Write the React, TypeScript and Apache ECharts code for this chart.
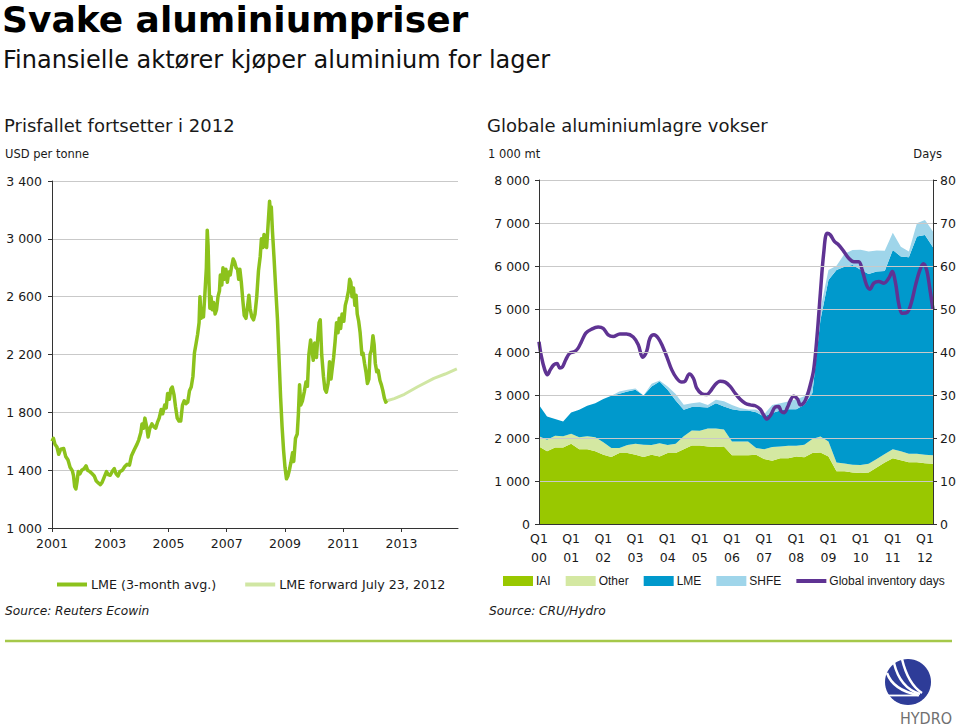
import React, { useEffect, useRef } from 'react';
import * as echarts from 'echarts';

// ---------- Left chart: LME aluminium price (USD per tonne), x = years after 2001 ----------
const lmeX = [0.00,0.05,0.10,0.17,0.23,0.30,0.40,0.47,0.55,0.62,0.70,0.74,0.78,0.82,0.86,0.90,0.96,1.02,1.10,1.17,1.22,1.30,1.38,1.45,1.52,1.60,1.66,1.72,1.80,1.87,1.93,2.00,2.08,2.14,2.20,2.27,2.33,2.42,2.50,2.58,2.66,2.73,2.82,2.92,2.98,3.05,3.09,3.14,3.19,3.25,3.30,3.36,3.43,3.50,3.56,3.62,3.68,3.75,3.80,3.87,3.92,3.97,4.03,4.08,4.13,4.19,4.24,4.30,4.36,4.42,4.48,4.54,4.60,4.66,4.72,4.78,4.84,4.89,4.95,5.00,5.05,5.08,5.12,5.16,5.20,5.25,5.30,5.33,5.36,5.39,5.42,5.46,5.50,5.55,5.60,5.65,5.70,5.75,5.78,5.83,5.87,5.92,5.97,6.02,6.07,6.12,6.17,6.22,6.27,6.32,6.37,6.41,6.45,6.50,6.55,6.60,6.66,6.72,6.76,6.80,6.86,6.92,6.97,7.03,7.09,7.15,7.19,7.24,7.28,7.32,7.37,7.42,7.47,7.50,7.53,7.57,7.62,7.68,7.74,7.79,7.85,7.90,7.95,8.00,8.05,8.10,8.15,8.20,8.26,8.30,8.36,8.42,8.46,8.50,8.54,8.60,8.66,8.72,8.77,8.82,8.88,8.93,8.97,9.02,9.08,9.12,9.17,9.21,9.26,9.32,9.37,9.42,9.48,9.53,9.58,9.62,9.67,9.72,9.77,9.82,9.86,9.91,9.96,10.02,10.07,10.12,10.18,10.22,10.26,10.30,10.35,10.40,10.44,10.48,10.53,10.58,10.64,10.68,10.73,10.78,10.83,10.88,10.92,10.97,11.02,11.06,11.10,11.15,11.20,11.26,11.31,11.36,11.41,11.46,11.50];
const lmeY = [1600,1620,1580,1560,1510,1545,1550,1495,1470,1420,1395,1360,1285,1270,1320,1390,1375,1400,1410,1430,1400,1390,1375,1360,1325,1310,1300,1315,1355,1390,1370,1365,1395,1410,1375,1360,1390,1400,1425,1440,1435,1500,1540,1580,1610,1660,1720,1690,1760,1700,1630,1690,1720,1700,1690,1730,1760,1820,1790,1850,1830,1930,1890,1960,1975,1920,1840,1760,1740,1740,1850,1880,1860,1870,1950,1975,2050,2210,2280,2340,2420,2600,2450,2480,2460,2620,2800,3060,2950,2700,2520,2600,2510,2560,2480,2510,2600,2640,2750,2680,2800,2720,2790,2700,2770,2750,2810,2860,2840,2800,2790,2720,2790,2700,2580,2470,2450,2540,2610,2520,2460,2440,2480,2600,2780,2880,3000,2940,3030,2950,2940,3100,3260,3180,3220,3050,2880,2660,2450,2200,1900,1700,1540,1420,1340,1360,1400,1450,1520,1460,1620,1650,1790,1990,1850,1880,1940,2010,1980,2200,2300,2220,2160,2280,2180,2300,2420,2440,2200,2050,1960,1940,2000,2150,2030,2100,2180,2290,2420,2350,2450,2380,2480,2430,2540,2580,2640,2720,2700,2600,2660,2540,2610,2480,2430,2350,2200,2210,2140,2080,2000,2030,2200,2230,2330,2270,2140,2080,2090,2020,1990,1950,1900,1870,1880];
const fwdX = [11.50,11.75,12.10,12.54,13.11,13.50,13.90];
const fwdY = [1880,1895,1925,1975,2035,2065,2100];
const priceYearTicks = [0,2,4,6,8,10,12];
const firstYear = 2001;

// ---------- Right chart: global aluminium inventories (1 000 mt), quarterly from Q1 2000 to Q2 2012 ----------
const iai = [1800,1690,1780,1780,1865,1740,1740,1690,1610,1560,1650,1650,1610,1560,1610,1570,1650,1650,1740,1825,1825,1800,1790,1800,1600,1600,1600,1610,1510,1470,1530,1530,1570,1550,1650,1665,1570,1225,1225,1200,1185,1200,1315,1430,1530,1480,1435,1435,1415,1400];
const other = [240,270,270,260,235,280,300,330,290,210,120,190,255,285,225,310,185,215,300,350,345,420,430,400,320,320,320,160,230,320,275,290,250,293,325,372,350,208,180,180,185,200,195,200,210,210,200,200,195,200];
const lmeStock = [730,540,390,345,495,635,710,790,1005,1210,1260,1240,1255,1145,1365,1435,1285,1010,615,545,550,490,590,535,750,720,720,830,760,790,835,850,850,930,1070,2710,3755,4475,4580,4645,4540,4415,4360,4255,4635,4530,4570,5050,5110,4835];
const shfe = [0,0,0,0,0,0,0,0,0,0,50,40,30,0,60,20,80,150,120,90,110,60,80,120,100,60,20,60,50,190,170,180,230,200,250,250,230,100,300,350,470,520,490,470,400,230,130,310,350,365];
// Global inventory days (right axis), x = years after 2000
const daysX = [0,0.073,0.177,0.26,0.353,0.457,0.561,0.644,0.727,0.831,0.956,1.112,1.216,1.319,1.455,1.631,1.839,1.995,2.151,2.306,2.514,2.722,2.93,3.086,3.221,3.345,3.449,3.574,3.709,3.844,3.969,4.125,4.281,4.436,4.54,4.675,4.8,4.904,5.06,5.216,5.319,5.475,5.631,5.787,5.943,6.099,6.255,6.41,6.566,6.722,6.878,6.982,7.086,7.21,7.345,7.449,7.532,7.626,7.73,7.813,7.917,8.042,8.125,8.229,8.332,8.436,8.54,8.644,8.748,8.852,8.956,9.06,9.184,9.319,9.475,9.631,9.787,9.943,10.047,10.182,10.286,10.41,10.566,10.722,10.878,10.982,11.086,11.19,11.294,11.449,11.574,11.709,11.844,11.948,12.052,12.156,12.25];
const daysY = [42.4,39.0,35.9,34.7,35.9,37.0,37.3,36.3,36.5,38.2,39.7,40.1,40.9,42.4,44.4,45.3,45.8,45.5,44.0,43.6,44.2,44.2,43.5,41.7,38.8,40.1,43.2,44.0,43.2,41.3,39.0,35.9,33.9,33.0,33.2,34.9,33.9,31.6,30.3,30.1,30.8,32.4,33.2,33.0,32.0,30.4,29.0,28.1,27.7,27.5,26.7,25.4,24.4,25.4,27.2,27.3,26.2,25.9,27.2,28.7,29.7,29.0,27.7,28.1,29.7,32.4,35.9,43.6,53.7,63.0,67.6,67.2,65.7,64.9,63.4,61.8,61.0,61.0,59.1,55.6,54.6,56.0,56.4,56.0,57.2,58.7,56.0,51.0,49.0,49.2,51.4,55.6,59.1,60.5,59.1,54.5,49.8];
const stockYearTicks = [0,1,2,3,4,5,6,7,8,9,10,11,12];
const stockFirstYear = 2000;

const VERDANA = '"DejaVu Sans", Verdana, sans-serif';
const ARIAL = '"Liberation Sans", Arial, sans-serif';

const C_LME_PRICE = '#8cc21c';
const C_FWD = '#d0e6a3';
const C_IAI = '#99c800';
const C_OTHER = '#d4e8a2';
const C_LME = '#0099cc';
const C_SHFE = '#9fd5ea';
const C_DAYS = '#5f3393';
const C_GRID = '#c9c9c9';
const C_AXIS = '#333333';
const C_TEXT = '#1a1a1a';

const LINE_ICON = 'path://M0,3H30V7H0Z';

const thousands = (v: number) => {
  if (v < 1000) return String(v);
  const t = Math.floor(v / 1000);
  const r = String(v % 1000).padStart(3, '0');
  return `${t} ${r}`;
};

const txt = (text: string, x: number, y: number, size: number, opts: any = {}) => ({
  type: 'text',
  x,
  y,
  silent: true,
  style: {
    text,
    fontSize: size,
    fontFamily: opts.family || VERDANA,
    fontWeight: opts.weight || 'normal',
    fontStyle: opts.style || 'normal',
    fill: opts.fill || C_TEXT,
    textAlign: opts.align || 'left',
    align: opts.align || 'left',
    textVerticalAlign: 'middle',
    verticalAlign: 'middle',
  },
});

export default function App() {
  const ref = useRef<HTMLDivElement>(null);

  useEffect(() => {
    if (!ref.current) return;
    const chart = echarts.init(ref.current, undefined, { renderer: 'svg' });

    const quarterLabels = iai.map((_, i) => `Q${(i % 4) + 1} ${String((stockFirstYear + Math.floor(i / 4)) % 100).padStart(2, '0')}`);
    const pair = (xs: number[], ys: number[]) => xs.map((x, i) => [x, ys[i]]);

    const axisLabelBase = { fontFamily: VERDANA, fontSize: 12.5, color: C_TEXT };

    const option: any = {
      animation: false,
      backgroundColor: '#ffffff',
      grid: [
        { left: 52, top: 181, width: 406, height: 347 },
        { left: 539, top: 180, width: 394, height: 344 },
      ],
      xAxis: [
        {
          gridIndex: 0,
          type: 'value',
          min: 0,
          max: 13.94,
          interval: 2,
          axisLine: { show: true, lineStyle: { color: C_AXIS, width: 1 } },
          axisTick: { show: true, length: 4, customValues: priceYearTicks, lineStyle: { color: C_AXIS } },
          axisLabel: {
            ...axisLabelBase,
            customValues: priceYearTicks,
            margin: 9,
            formatter: (v: number) => String(firstYear + Math.round(v)),
          },
          splitLine: { show: false },
        },
        {
          gridIndex: 1,
          type: 'value',
          min: 0,
          max: 12.25,
          interval: 1,
          z: 5,
          axisLine: { show: true, lineStyle: { color: C_AXIS, width: 1 } },
          axisTick: { show: false },
          axisLabel: {
            ...axisLabelBase,
            customValues: stockYearTicks,
            margin: 5,
            lineHeight: 19,
            formatter: (v: number) => `Q1\n${String((stockFirstYear + Math.round(v)) % 100).padStart(2, '0')}`,
          },
          splitLine: { show: false },
        },
        {
          gridIndex: 1,
          type: 'category',
          show: false,
          boundaryGap: false,
          data: quarterLabels,
        },
      ],
      yAxis: [
        {
          gridIndex: 0,
          type: 'value',
          min: 1000,
          max: 3400,
          interval: 400,
          axisLine: { show: true, lineStyle: { color: C_AXIS, width: 1 } },
          axisTick: { show: true, length: 4, lineStyle: { color: C_AXIS } },
          axisLabel: { ...axisLabelBase, margin: 10, formatter: thousands },
          splitLine: { show: true, lineStyle: { color: C_GRID, width: 1 } },
        },
        {
          gridIndex: 1,
          type: 'value',
          min: 0,
          max: 8000,
          interval: 1000,
          z: 5,
          axisLine: { show: true, lineStyle: { color: C_AXIS, width: 1 } },
          axisTick: { show: true, length: 4, lineStyle: { color: C_AXIS } },
          axisLabel: { ...axisLabelBase, margin: 9, formatter: thousands },
          splitLine: { show: true, lineStyle: { color: C_GRID, width: 1 } },
        },
        {
          gridIndex: 1,
          type: 'value',
          position: 'right',
          min: 0,
          max: 80,
          interval: 10,
          z: 5,
          axisLine: { show: true, lineStyle: { color: C_AXIS, width: 1 } },
          axisTick: { show: true, length: 4, lineStyle: { color: C_AXIS } },
          axisLabel: { ...axisLabelBase, margin: 7 },
          splitLine: { show: false },
        },
      ],
      legend: [
        {
          left: 57,
          top: 578,
          itemWidth: 30,
          itemHeight: 10,
          itemGap: 29,
          padding: 0,
          textStyle: { fontFamily: VERDANA, fontSize: 12.7, color: C_TEXT, padding: [0, 0, 0, -1] },
          data: [
            { name: 'LME (3-month avg.)', icon: LINE_ICON },
            { name: 'LME forward July 23, 2012', icon: LINE_ICON },
          ],
        },
        {
          left: 503,
          top: 575,
          itemWidth: 30,
          itemHeight: 10,
          itemGap: 15,
          padding: 0,
          textStyle: { fontFamily: ARIAL, fontSize: 12, color: C_TEXT, padding: [0, 0, 0, -2] },
          data: [
            { name: 'IAI', icon: 'rect' },
            { name: 'Other', icon: 'rect' },
            { name: 'LME', icon: 'rect' },
            { name: 'SHFE', icon: 'rect' },
            { name: 'Global inventory days', icon: LINE_ICON },
          ],
        },
      ],
      series: [
        {
          name: 'LME (3-month avg.)',
          type: 'line',
          xAxisIndex: 0,
          yAxisIndex: 0,
          data: pair(lmeX, lmeY),
          symbol: 'none',
          color: C_LME_PRICE,
          itemStyle: { color: C_LME_PRICE },
          lineStyle: { width: 3.5, color: C_LME_PRICE, join: 'round' },
          z: 3,
        },
        {
          name: 'LME forward July 23, 2012',
          type: 'line',
          xAxisIndex: 0,
          yAxisIndex: 0,
          data: pair(fwdX, fwdY),
          symbol: 'none',
          color: C_FWD,
          itemStyle: { color: C_FWD },
          lineStyle: { width: 3, color: C_FWD },
          z: 2,
        },
        ...[
          { name: 'IAI', vals: iai, c: C_IAI },
          { name: 'Other', vals: other, c: C_OTHER },
          { name: 'LME', vals: lmeStock, c: C_LME },
          { name: 'SHFE', vals: shfe, c: C_SHFE },
        ].map((s) => ({
          name: s.name,
          type: 'line',
          xAxisIndex: 2,
          yAxisIndex: 1,
          stack: 'stock',
          data: s.vals,
          symbol: 'none',
          color: s.c,
          itemStyle: { color: s.c },
          lineStyle: { width: 0, color: s.c },
          areaStyle: { color: s.c, opacity: 1 },
          z: 2,
        })),
        {
          name: 'Global inventory days',
          type: 'line',
          xAxisIndex: 1,
          yAxisIndex: 2,
          data: pair(daysX, daysY),
          symbol: 'none',
          smooth: 0.35,
          color: C_DAYS,
          itemStyle: { color: C_DAYS },
          lineStyle: { width: 3.5, color: C_DAYS },
          z: 4,
        },
      ],
      graphic: [
        txt('Svake aluminiumpriser', 2, 19, 36, { weight: 'bold', fill: '#000' }),
        txt('Finansielle aktører kjøper aluminium for lager', 3, 60, 24, { fill: '#111' }),
        txt('Prisfallet fortsetter i 2012', 4, 125, 18),
        txt('USD per tonne', 5, 154, 11.5),
        txt('Globale aluminiumlagre vokser', 487, 125, 18),
        txt('1 000 mt', 488, 154, 11.5),
        txt('Days', 942, 154, 11.5, { align: 'right' }),
        txt('Source: Reuters Ecowin', 5, 611, 12.2, { style: 'italic' }),
        txt('Source: CRU/Hydro', 489, 611, 12.2, { style: 'italic' }),
        {
          type: 'line',
          silent: true,
          shape: { x1: 5, y1: 641, x2: 952, y2: 641 },
          style: { stroke: '#a5c84a', lineWidth: 2.5 },
        },
        {
          type: 'group',
          silent: true,
          children: [
            { type: 'circle', shape: { cx: 908, cy: 682, r: 23 }, style: { fill: '#2e3c98' } },
            { type: 'bezierCurve', shape: { x1: 887, y1: 673, cpx1: 893, cpy1: 690, x2: 918, y2: 695 }, style: { stroke: '#ffffff', lineWidth: 2.5, fill: 'none' } },
            { type: 'bezierCurve', shape: { x1: 894, y1: 663, cpx1: 900, cpy1: 688, x2: 920, y2: 694 }, style: { stroke: '#ffffff', lineWidth: 2.5, fill: 'none' } },
            { type: 'bezierCurve', shape: { x1: 902, y1: 659, cpx1: 908, cpy1: 684, x2: 922, y2: 693 }, style: { stroke: '#ffffff', lineWidth: 2.5, fill: 'none' } },
            { type: 'line', shape: { x1: 888, y1: 695.5, x2: 919, y2: 695.5 }, style: { stroke: '#ffffff', lineWidth: 1.8 } },
          ],
        },
        txt('HYDRO', 926, 718, 16, { align: 'center', fill: '#707070', family: '"DejaVu Sans Condensed", "DejaVu Sans", sans-serif' }),
      ],
    };

    chart.setOption(option);
    return () => chart.dispose();
  }, []);

  return (
    <div
      ref={ref}
      style={{ position: 'fixed', left: 0, top: 0, width: 959, height: 728, background: '#fff' }}
    />
  );
}
